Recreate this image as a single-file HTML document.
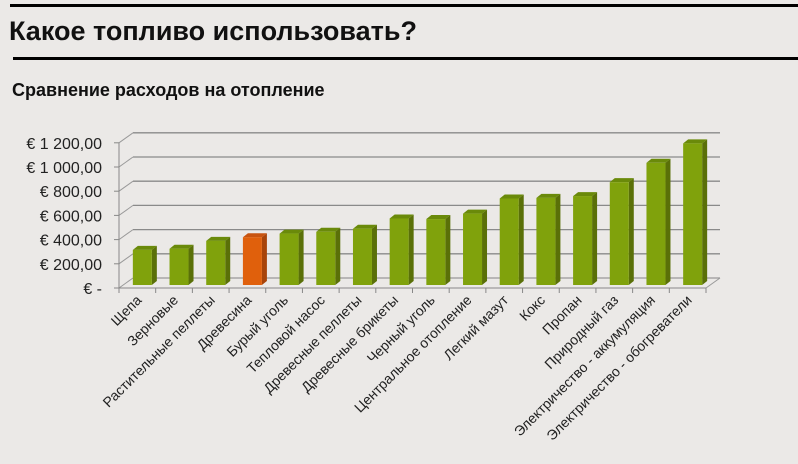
<!DOCTYPE html>
<html><head><meta charset="utf-8"><style>
body{margin:0;background:#ebe9e7;}
svg{display:block;font-family:"Liberation Sans",Arial,sans-serif;}
</style></head><body>
<svg width="798" height="464" viewBox="0 0 798 464">
<rect x="0" y="0" width="798" height="464" fill="#ebe9e7"/>
<rect x="10" y="4" width="788" height="3" fill="#000"/>
<text x="9" y="40" font-size="27" font-weight="bold" fill="#111">Какое топливо использовать?</text>
<rect x="13" y="57" width="785" height="3" fill="#000"/>
<text x="12" y="96" font-size="18" font-weight="bold" fill="#111">Сравнение расходов на отопление</text>
<g id="chart"></g>
</svg>
<script>
const categories=["Щепа","Зерновые","Растительные пеллеты","Древесина","Бурый уголь","Тепловой насос","Древесные пеллеты","Древесные брикеты","Черный уголь","Центральное отопление","Легкий мазут","Кокс","Пропан","Природный газ","Электричество - аккумуляция","Электричество - обогреватели"];
const values=[290,300,365,395,425,440,465,550,545,590,715,720,735,850,1010,1170];
const highlight=[3];
const yTicks=[0,200,400,600,800,1000,1200];
const yTickLabels=["€ -","€ 200,00","€ 400,00","€ 600,00","€ 800,00","€ 1 000,00","€ 1 200,00"];
const NS="http://www.w3.org/2000/svg";
const g=document.getElementById('chart');
const x0=119,x1=706,baseY=288,pxPer=24.2/200,dx=14,dy=-10;
const n=categories.length,band=(x1-x0)/n;
const y=v=>baseY-v*pxPer;
const xc=i=>x0+band*(i+0.5);
function mk(t,a){const e=document.createElementNS(NS,t);for(const k in a)e.setAttribute(k,a[k]);g.appendChild(e);return e;}
yTicks.forEach((v,i)=>{
 const l=mk('line',{x1:x0+dx,y1:y(v)+dy,x2:x1+dx,y2:y(v)+dy,stroke:i==0?'#999':'#8a8a8a','stroke-width':1.3});
 
 
 const s=mk('line',{x1:x0,y1:y(v),x2:x0+dx,y2:y(v)+dy,stroke:'#999','stroke-width':1});
 
 
 const tk=mk('line',{x1:x0-5,y1:y(v),x2:x0,y2:y(v),stroke:'#888'});
 
 
 const t=mk('text',{x:x0-17,y:y(v)+6,'text-anchor':'end','font-size':16,fill:'#222'});
 t.textContent=yTickLabels[i];
 
 
});
const ax=mk('line',{x1:x0,y1:y(0),x2:x0,y2:y(1200),stroke:'#888'});


const ax2=mk('line',{x1:x0,y1:baseY,x2:x1,y2:baseY,stroke:'#888'});


const fl=mk('line',{x1:x1,y1:baseY,x2:x1+dx,y2:baseY+dy,stroke:'#999'});


for(let i=0;i<=n;i++){
 const t=mk('line',{x1:x0+band*i,y1:baseY,x2:x0+band*i,y2:baseY+5,stroke:'#888'});
 
 
}
const bw=19,bd=5,bu=4,bb=baseY-3,shift=5;
values.forEach((v,i)=>{
 const hi=highlight.includes(i);
 const front=hi?'#e0600c':'#80a20c',side=hi?'#a8440a':'#5a7008',top=hi?'#c85410':'#6a8a0a';
 const L=xc(i)-bw/2+shift,T=bb-v*pxPer;
 const grp=document.createElementNS(NS,'g');g.appendChild(grp);
 
 
 const a=document.createElementNS(NS,'polygon');a.setAttribute('points',`${L+bw},${T} ${L+bw+bd},${T-bu} ${L+bw+bd},${bb-bu} ${L+bw},${bb}`);a.setAttribute('fill',side);grp.appendChild(a);
 const b=document.createElementNS(NS,'polygon');b.setAttribute('points',`${L},${T} ${L+bd},${T-bu} ${L+bw+bd},${T-bu} ${L+bw},${T}`);b.setAttribute('fill',top);grp.appendChild(b);
 const r=document.createElementNS(NS,'rect');r.setAttribute('x',L);r.setAttribute('y',T);r.setAttribute('width',bw);r.setAttribute('height',bb-T);r.setAttribute('fill',front);grp.appendChild(r);
 const t=mk('text',{x:xc(i)+5,y:baseY+13,'text-anchor':'end','font-size':14,fill:'#222',transform:`rotate(-45 ${xc(i)+5} ${baseY+13})`});
 t.textContent=categories[i];
 
 
});
</script>
</body></html>
